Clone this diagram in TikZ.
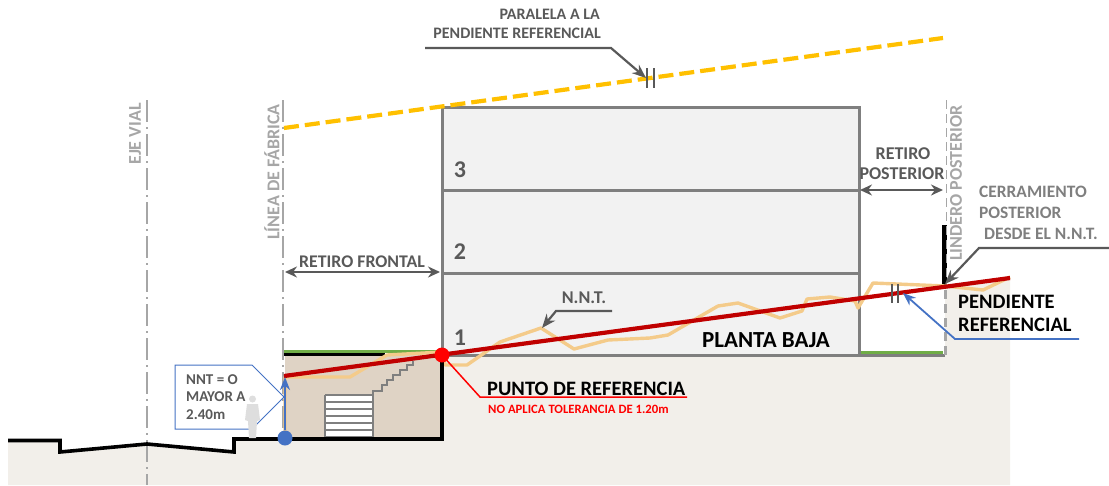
\documentclass[tikz,border=0pt]{standalone}
\usepackage{fontspec}
\setmainfont{Carlito}
\usetikzlibrary{arrows.meta}
\definecolor{ground}{HTML}{F2EFEA}
\definecolor{tan}{HTML}{DFD3C5}
\definecolor{wallg}{HTML}{7F7F7F}
\definecolor{lead}{HTML}{595959}
\definecolor{axisg}{HTML}{A6A6A6}
\definecolor{roomf}{HTML}{F2F2F2}
\definecolor{grass}{HTML}{70AD47}
\definecolor{nnt}{HTML}{F4CB8A}
\definecolor{refred}{HTML}{C00000}
\definecolor{gold}{HTML}{FFC000}
\definecolor{bluea}{HTML}{4472C4}
\definecolor{textg}{HTML}{7F7F7F}
\tikzset{
  lbl/.style={font=\bfseries\fontsize{#1}{#1}\selectfont,inner sep=0pt,text=lead},
  lbl/.default=14,
  axisline/.style={draw=axisg,line width=1.8pt,dash pattern=on 22pt off 5pt on 2pt off 5pt},
  axistext/.style={font=\bfseries\fontsize{18}{18}\selectfont,text=axisg,rotate=90,inner sep=0pt},
  leader/.style={draw=lead,line width=2.2pt,-{Stealth[length=14pt,width=11pt]}},
  dimarrow/.style={draw=lead,line width=2.4pt,{Stealth[length=12pt,width=11pt]}-{Stealth[length=12pt,width=11pt]}},
  tick/.style={draw=lead,line width=2.6pt},
  wall/.style={draw=wallg,line width=3pt},
  heavy/.style={draw=black,line width=3.6pt,miter limit=10},
}
\begin{document}
\begin{tikzpicture}[x=1pt,y=-1pt]
\useasboundingbox (0,0) rectangle (1109,485);
% ground
\fill[ground] (8,440) -- (60,440) -- (60,452) -- (147,444) -- (234,452) -- (234,439) -- (443,439) -- (443,355) -- (945,355) -- (945,285) -- (1010,277) -- (1010,485) -- (8,485) -- cycle;
% basement
\fill[tan] (285,355) rectangle (443,438);
% building
\draw[wall,fill=roomf] (442,107) rectangle (859,355);
\draw[wall] (442,190) -- (859,190);
\draw[wall] (442,273) -- (859,273);
\draw[wall] (859,355.5) -- (945,355.5);
% door
\fill[white] (325,395) rectangle (373,438);
\foreach \yy in {395,402,409,416,423,430,437}
  \draw[draw=wallg,line width=1.3pt] (325,\yy) -- (373,\yy);
\draw[draw=wallg,line width=1.5pt] (325,395) -- (325,438);
\draw[draw=wallg,line width=1.5pt] (373,438) -- (373,391) -- (382,391) -- (382,385) -- (387,385) -- (387,380) -- (393,380) -- (393,375) -- (400,375) -- (400,370) -- (407,370) -- (407,365) -- (413,365) -- (413,361);
% grass and walls
\draw[draw=grass,line width=3pt] (284,351) -- (443,351);
\draw[draw=grass,line width=3.4pt] (861,352.5) -- (943,352.5);
\draw[heavy] (284,354.5) -- (385,354.5);
% axes
\draw[axisline] (147,100) -- (147,485);
\draw[axisline] (283,100) -- (283,440);
\draw[draw=black,line width=5pt] (944.5,225) -- (944.5,285);
\draw[draw=axisg,line width=3pt,dash pattern=on 9pt off 5pt] (945,290) -- (945,356);
\draw[draw=axisg,line width=1.6pt,dash pattern=on 9pt off 5pt] (946.5,100) -- (946.5,285);
% nnt
\draw[draw=nnt,line width=3.4pt,line join=round] (285,438) -- (285,377) -- (350,377) -- (387,355) -- (443,352) -- (445,365) -- (467,365) -- (500,342) -- (541,328) -- (574,349) -- (608,340) -- (650,338) -- (668,335) -- (718,306) -- (738,303) -- (780,318) -- (802,311) -- (807,299) -- (830,297) -- (855,301) -- (858,308) -- (873,283) -- (945,286) -- (983,290) -- (1010,277);
% ground line
\draw[heavy] (8,440.5) -- (60,440.5) -- (60,452) -- (147,444) -- (234,452) -- (234,439) -- (442,439) -- (442,352);
% gold
\draw[draw=gold,line width=4.2pt,dash pattern=on 15pt off 6pt] (284,128) -- (943,38);
\draw[tick] (647,68) -- (647,88);
\draw[tick] (654,68) -- (654,88);
% reference line
\coordinate (rs) at (284,376);
\coordinate (re) at (1010,278);
\draw[draw=refred,line width=4.2pt] (rs) -- (re);
\draw[tick] (892,284) -- (892,303);
\draw[tick] (898,284) -- (898,303);
% callout
\draw[draw=bluea,line width=1pt,fill=white] (175,365) -- (252,365) -- (284,397) -- (252,429) -- (175,429) -- cycle;
% person
\fill[black!13] (252.5,399) circle (3.5);
\fill[black!13] (247,404) -- (258,404) -- (260,420) -- (257,421) -- (256,438) -- (249,438) -- (248,421) -- (245,420) -- cycle;
\node[lbl=15,anchor=west] at (186,380) {NNT = O};
\node[lbl=15,anchor=west] at (186,397) {MAYOR A};
\node[lbl=15,anchor=west] at (186,415) {2.40m};
% blue arrow
\node[circle,fill=bluea,minimum size=15pt,inner sep=0pt] (pb) at (285,438) {};
\coordinate (pt) at (285,377);
\draw[draw=bluea,line width=2pt,-{Stealth[length=13pt,width=10pt]}] (pb) -- (pt);
% red point
\node[circle,fill=red,minimum size=15pt,inner sep=0pt] (pr) at (442,355) {};
\coordinate (pr1) at (480,397);
\coordinate (pr2) at (687,397);
\draw[draw=red,line width=1.5pt] (pr.center) -- (pr1) -- (pr2);
\node[lbl=20.5,text=black,anchor=west] at (487,389) {PUNTO DE REFERENCIA};
\node[lbl=12.7,text=red,anchor=west] at (488,409) {NO APLICA TOLERANCIA DE 1.20m};
% numbers
\node[lbl=24] at (460,170) {3};
\node[lbl=24] at (460,252) {2};
\node[lbl=24] at (460,338) {1};
\node[lbl=23,text=black] at (766,340) {PLANTA BAJA};
% top leader
\node[lbl=16,anchor=east] (pa) at (600,14) {PARALELA A LA};
\node[lbl=16,anchor=east] (pd) at (601,33) {PENDIENTE REFERENCIAL};
\coordinate (l1) at (425,48);
\coordinate (l2) at (611,48);
\coordinate (l3) at (646,78);
\draw[leader] (l1) -- (l2) -- (l3);
% nnt leader
\node[lbl=18] (nn) at (584,298) {N.N.T.};
\coordinate (n1) at (612,311);
\coordinate (n2) at (556,311);
\coordinate (n3) at (542,328);
\draw[leader] (n1) -- (n2) -- (n3);
% rotated
\node[axistext] at (135,134) {EJE VIAL};
\node[axistext] at (272,172) {LÍNEA DE FÁBRICA};
\node[axistext] at (956,183) {LINDERO POSTERIOR};
% dims
\coordinate (df1) at (285,272);
\coordinate (df2) at (440,272);
\draw[dimarrow] (df1) -- (df2);
\node[lbl=17.8] at (362,262) {RETIRO FRONTAL};
\coordinate (dp1) at (860,190);
\coordinate (dp2) at (943,190);
\draw[dimarrow] (dp1) -- (dp2);
\node[lbl=18] at (903,154) {RETIRO};
\node[lbl=18] at (902,174) {POSTERIOR};
% cerramiento
\node[lbl=17.4,text=textg,anchor=west] at (979,192) {CERRAMIENTO};
\node[lbl=17.4,text=textg,anchor=west] at (979,213) {POSTERIOR};
\node[lbl=17.4,text=textg,anchor=west] at (984,234) {DESDE EL N.N.T.};
\coordinate (c1) at (1109,248);
\coordinate (c2) at (979,248);
\coordinate (c3) at (945,284);
\draw[leader] (c1) -- (c2) -- (c3);
% pendiente
\node[lbl=20.5,text=black,anchor=west] at (958,302) {PENDIENTE};
\node[lbl=20.5,text=black,anchor=west] at (958,325) {REFERENCIAL};
\coordinate (b1) at (1079,339);
\coordinate (b2) at (955,339);
\coordinate (b3) at (903,293);
\draw[draw=bluea,line width=1.8pt,-{Stealth[length=13pt,width=10pt]}] (b1) -- (b2) -- (b3);
\end{tikzpicture}
\end{document}
